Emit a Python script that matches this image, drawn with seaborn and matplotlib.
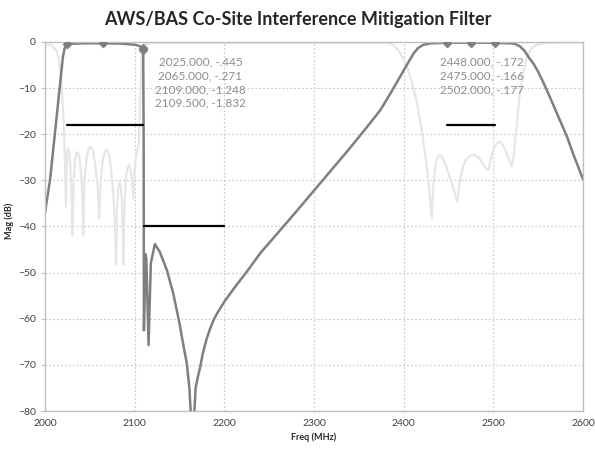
import numpy as np
import pandas as pd
import seaborn as sns
import matplotlib.pyplot as plt

# transmission (S21)
s21_freq = [2000, 2005.6, 2010, 2015, 2018, 2020, 2022, 2025, 2035, 2045, 2065, 2085, 2100,
            2105, 2109, 2109.5, 2110, 2110.3, 2112.0, 2113.0, 2115.5, 2118, 2122.5, 2128,
            2136, 2143, 2150, 2155, 2158, 2161, 2163, 2166, 2168, 2170, 2173, 2176, 2180,
            2184, 2188, 2192, 2200, 2210, 2225, 2240, 2260, 2280, 2300, 2320, 2340, 2360,
            2374, 2385, 2396, 2404, 2411, 2416, 2422, 2430, 2448, 2475, 2502, 2520, 2525,
            2530, 2535, 2540, 2545, 2550, 2555, 2560, 2570, 2582, 2590, 2600]
s21_mag = [-37.0, -29.9, -21.8, -12.5, -7.0, -3.2, -1.3, -0.445, -0.33, -0.29, -0.271, -0.35,
           -0.6, -0.85, -1.248, -1.832, -20, -62.5, -46.0, -47, -65.7, -48, -43.8, -45.5,
           -49.5, -54.5, -61, -66.5, -69.5, -75, -82, -82, -75, -73, -70.5, -67.5, -64.5,
           -62.2, -60.3, -58.8, -56.3, -53.6, -49.8, -45.8, -41.3, -36.8, -32.2, -27.6, -23,
           -18.2, -14.75, -11.2, -7.5, -4.8, -2.5, -1.3, -0.6, -0.3, -0.172, -0.166, -0.177,
           -0.3, -0.5, -1.0, -2.0, -3.5, -4.8, -6.5, -8.5, -10.6, -15.1, -20.5, -24.8, -29.8]

# return loss (S11)
s11_freq = [2000, 2008, 2013, 2016, 2018.5, 2020.5, 2022, 2023.4,
            2024.2, 2025, 2026, 2027.2, 2028.6, 2029.8, 2030.8,
            2032, 2033.5, 2035, 2036.5, 2038.5, 2040.5, 2041.8, 2042.7,
            2044, 2046.5, 2049, 2051, 2053.5, 2056, 2058.5, 2060.6,
            2062, 2064.5, 2067, 2069, 2071.5, 2074, 2076.5, 2078.3, 2079.2,
            2080.3, 2081.8, 2083.3, 2084.8, 2086.2, 2087.4,
            2088.6, 2090.5, 2092.3, 2094, 2095.8, 2097.3, 2098.5,
            2100, 2101.8, 2103.3, 2104.5, 2105.5, 2106.5, 2107.5, 2109, 2112, 2120,
            2380, 2388, 2395, 2402, 2408, 2414.5, 2420, 2425, 2428.5, 2431.2,
            2433, 2435.5, 2438, 2440.5, 2443.5, 2447, 2451, 2455, 2459.8,
            2462.5, 2466, 2470, 2475, 2479.5, 2484, 2488, 2491.5, 2494.4,
            2497.5, 2501, 2504.5, 2507.4, 2510.5, 2514, 2517.5, 2520.5,
            2523, 2526, 2529, 2533, 2537, 2542, 2548, 2560, 2600]
s11_mag = [-0.3, -0.8, -2, -4.5, -9, -16, -24, -35.7,
           -27, -23.8, -23, -24, -28, -33, -41.8,
           -30, -25.5, -24.0, -23.9, -25, -29, -34, -41.8,
           -30, -25, -23, -22.7, -23.5, -26.5, -31, -38.2,
           -30, -25.5, -23.6, -23.4, -24.5, -28, -34, -41, -48.3,
           -36, -31.5, -30.3, -31.5, -37, -48.3,
           -35, -29, -27, -26.7, -28, -30.5, -33.9,
           -27.5, -24.2, -23.4, -22, -17, -10, -4.5, -1.5, -0.5, -0.2,
           -0.1, -0.6, -2, -4.5, -8, -12.9, -19, -26, -32, -38.2,
           -31, -26.5, -24.8, -24.5, -25.2, -26.8, -29, -31.5, -34.6,
           -30, -27, -25.3, -24.6, -24.5, -25.2, -26.3, -27.3, -27.8,
           -25, -22.8, -21.8, -21.6, -22.3, -23.8, -25.5, -27,
           -24, -18, -12, -7, -3.5, -1.5, -0.6, -0.1, -0.05]

# markers
mk_freq = [2025.0, 2065.0, 2109.0, 2109.5, 2448.0, 2475.0, 2502.0]
mk_mag = [-0.445, -0.271, -1.248, -1.832, -0.172, -0.166, -0.177]
mk_left = ["2025.000, -.445", "2065.000, -.271", "2109.000, -1.248", "2109.500, -1.832"]
mk_right = ["2448.000, -.172", "2475.000, -.166", "2502.000, -.177"]

# spec masks (x0, x1, level)
mask_x0 = [2025, 2110.5, 2448]
mask_x1 = [2109.5, 2200, 2502]
mask_y = [-18, -40, -18]

sns.set_style("white")
plt.rcParams['font.family'] = ['Lato', 'DejaVu Sans']

fig = plt.figure(figsize=(5.95, 4.49), dpi=100)
ax = fig.add_axes([0.0756, 0.0846, 0.9044, 0.8219])

sns.lineplot(x=s11_freq, y=s11_mag, sort=False, color='#e6e6e6', lw=1.6, ax=ax)
sns.lineplot(x=s21_freq, y=s21_mag, sort=False, color='#7f7f7f', lw=1.8, ax=ax)
sns.scatterplot(x=mk_freq, y=mk_mag, marker='D', s=22, color='#7f7f7f', edgecolor='#7f7f7f', ax=ax, zorder=5)

for x0, x1, y in zip(mask_x0, mask_x1, mask_y):
    ax.plot([x0, x1], [y, y], color='black', lw=1.6, zorder=6)

for i, t in enumerate(mk_left):
    ax.text(2173.4, -4.3 - 3.0 * i, t, ha='center', va='center', fontsize=8.5, color='#8c8c8c')
for i, t in enumerate(mk_right):
    ax.text(2487.3, -4.3 - 3.0 * i, t, ha='center', va='center', fontsize=8.5, color='#8c8c8c')

ax.set_xlim(2000, 2600)
ax.set_ylim(-80, 0)
ax.set_xticks(range(2000, 2601, 100))
ax.set_yticks(range(-80, 1, 10))
ax.grid(True, color='#c8c8c8', linestyle=(0, (1.5, 2)), lw=0.8)
for s in ax.spines.values():
    s.set_color('#bfbfbf')
    s.set_linewidth(1.0)
ax.tick_params(axis='x', length=0, labelsize=7.5, pad=6, colors='#404040')
ax.tick_params(axis='y', length=3, labelsize=7.5, colors='#404040', left=True, width=0.8)
ax.tick_params(axis='y', color='#bfbfbf')

ax.set_xlabel("Freq (MHz)", fontsize=6.5, fontweight='bold', labelpad=3)
ax.set_ylabel("Mag (dB)", fontsize=6.5, fontweight='bold')
ax.yaxis.set_label_coords(-0.058, 0.515)
fig.suptitle("AWS/BAS Co-Site Interference Mitigation Filter", fontsize=13, fontweight='bold', y=0.975)

fig.savefig('out.png', dpi=100)
